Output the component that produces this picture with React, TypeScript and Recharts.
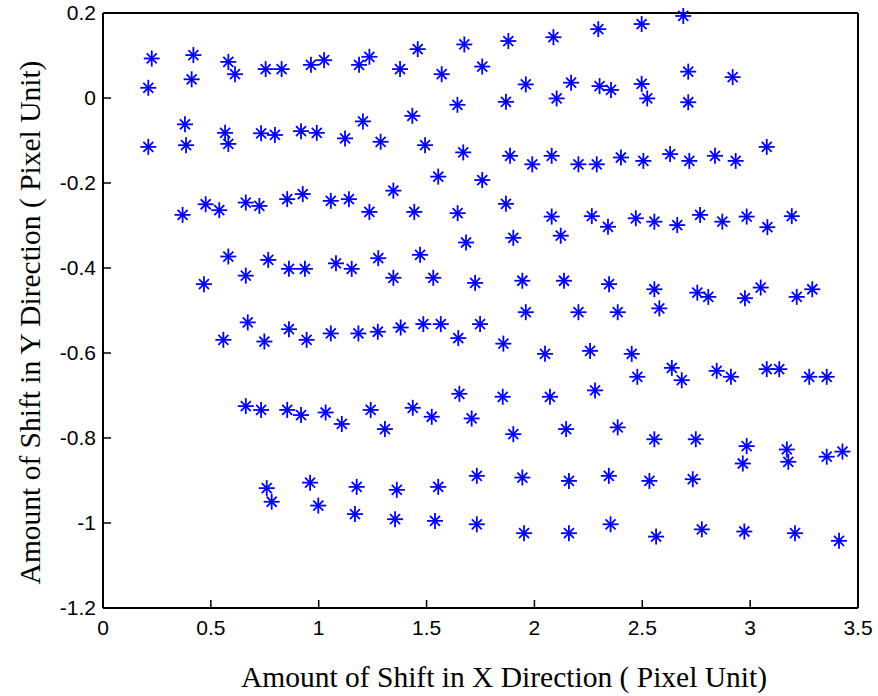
import { Scatter, ScatterChart, XAxis, YAxis } from "recharts";

const xTicks = [0, 0.5, 1, 1.5, 2, 2.5, 3, 3.5];
const yTicks = [-1.2, -1, -0.8, -0.6, -0.4, -0.2, 0, 0.2];
const xTitle = "Amount of Shift in X Direction ( Pixel Unit)";
const yTitle = "Amount of Shift in Y Direction ( Pixel Unit)";

// shift samples, grouped in horizontal bands from top to bottom
const band1X = [0.226, 0.419, 0.21, 0.411, 0.581, 0.612, 0.754, 0.828, 0.964, 1.025, 1.187, 1.235, 1.377, 1.459, 1.57, 1.675, 1.758, 1.879, 2.088, 2.296, 2.497, 2.69, 1.643, 1.868, 1.96, 2.103, 2.17, 2.302, 2.355, 2.497, 2.523, 2.713, 2.713, 2.919];
const band1Y = [0.093, 0.101, 0.024, 0.044, 0.085, 0.056, 0.068, 0.068, 0.078, 0.089, 0.078, 0.097, 0.068, 0.115, 0.056, 0.126, 0.074, 0.134, 0.143, 0.162, 0.174, 0.193, -0.016, -0.009, 0.032, -0.001, 0.036, 0.028, 0.019, 0.033, -0.001, 0.062, -0.01, 0.049];

const band2X = [0.21, 0.38, 0.385, 0.566, 0.581, 0.733, 0.797, 0.918, 0.991, 1.122, 1.205, 1.287, 1.434, 1.493, 1.67, 1.887, 1.99, 2.08, 2.204, 2.289, 2.401, 2.505, 2.629, 2.718, 2.837, 2.933, 3.077, 1.554, 1.758, 1.346];
const band2Y = [-0.115, -0.062, -0.111, -0.082, -0.108, -0.083, -0.087, -0.078, -0.082, -0.095, -0.055, -0.103, -0.042, -0.111, -0.128, -0.136, -0.156, -0.136, -0.156, -0.156, -0.14, -0.148, -0.132, -0.148, -0.136, -0.148, -0.115, -0.185, -0.193, -0.218];

const band3X = [0.369, 0.476, 0.539, 0.662, 0.725, 0.854, 0.926, 1.056, 1.14, 1.235, 1.443, 1.644, 1.868, 2.08, 2.266, 2.341, 2.47, 2.556, 2.662, 2.768, 2.871, 2.984, 3.08, 3.193, 1.683, 1.902, 2.122];
const band3Y = [-0.275, -0.25, -0.264, -0.246, -0.254, -0.238, -0.226, -0.242, -0.238, -0.268, -0.268, -0.271, -0.249, -0.279, -0.278, -0.303, -0.283, -0.291, -0.299, -0.275, -0.291, -0.279, -0.304, -0.278, -0.34, -0.329, -0.324];

const band4X = [0.581, 0.468, 0.662, 0.766, 0.862, 0.936, 1.08, 1.153, 1.276, 1.47, 1.346, 1.531, 1.725, 1.944, 2.137, 2.346, 1.96, 2.204, 2.386, 2.556, 2.579, 2.755, 2.806, 2.976, 3.049, 3.216, 3.288];
const band4Y = [-0.373, -0.438, -0.418, -0.381, -0.402, -0.402, -0.389, -0.402, -0.377, -0.369, -0.423, -0.423, -0.435, -0.43, -0.43, -0.438, -0.504, -0.504, -0.504, -0.45, -0.495, -0.458, -0.468, -0.471, -0.446, -0.468, -0.45];

const band5X = [0.558, 0.671, 0.748, 0.862, 0.944, 1.056, 1.184, 1.274, 1.38, 1.485, 1.566, 1.748, 1.647, 1.856, 2.049, 2.258, 2.451, 2.477, 2.637, 2.683, 2.845, 2.911, 3.077, 3.135, 3.274, 3.355];
const band5Y = [-0.569, -0.528, -0.573, -0.544, -0.569, -0.554, -0.554, -0.55, -0.54, -0.532, -0.532, -0.532, -0.565, -0.578, -0.602, -0.595, -0.602, -0.656, -0.635, -0.664, -0.642, -0.656, -0.638, -0.638, -0.656, -0.656];

const band6X = [1.652, 1.853, 2.072, 2.281, 0.662, 0.733, 0.854, 0.918, 1.032, 1.107, 1.241, 1.307, 1.436, 1.524, 1.709, 1.902, 2.147, 2.386, 2.556, 2.748, 2.984, 2.966, 3.17, 3.177, 3.355, 3.428];
const band6Y = [-0.696, -0.703, -0.703, -0.688, -0.725, -0.734, -0.734, -0.746, -0.74, -0.767, -0.734, -0.779, -0.729, -0.75, -0.754, -0.791, -0.779, -0.775, -0.803, -0.803, -0.819, -0.86, -0.827, -0.856, -0.844, -0.832];

const band7X = [0.759, 0.782, 0.96, 0.998, 1.176, 1.168, 1.362, 1.354, 1.554, 1.539, 1.733, 1.733, 1.944, 1.952, 2.16, 2.16, 2.345, 2.353, 2.533, 2.564, 2.734, 2.776, 2.973, 3.208, 3.412];
const band7Y = [-0.918, -0.95, -0.905, -0.959, -0.915, -0.979, -0.922, -0.991, -0.915, -0.995, -0.889, -1.003, -0.893, -1.024, -0.901, -1.024, -0.889, -1.003, -0.901, -1.032, -0.897, -1.015, -1.02, -1.024, -1.042];

const bands: [number[], number[]][] = [
  [band1X, band1Y],
  [band2X, band2Y],
  [band3X, band3Y],
  [band4X, band4Y],
  [band5X, band5Y],
  [band6X, band6Y],
  [band7X, band7Y],
];

const points = bands.flatMap(([xs, ys]) => xs.map((x, i) => ({ x, y: ys[i] })));

const tickFont = { fill: "#000", fontSize: 21, fontFamily: '"Liberation Sans", Arial, sans-serif' };
const axisLine = { stroke: "#000", strokeWidth: 2 };
const tickLine = { stroke: "#000", strokeWidth: 1.5 };
const serif = '"Liberation Serif", "Times New Roman", serif';

// matlab style '*' marker
const Star = (props: any) => {
  const { cx, cy } = props;
  const r = 8;
  const d = 5;
  return (
    <g stroke="#0000ff" strokeWidth={1.8}>
      <line x1={cx - r} y1={cy} x2={cx + r} y2={cy} />
      <line x1={cx} y1={cy - r} x2={cx} y2={cy + r} />
      <line x1={cx - d} y1={cy - d} x2={cx + d} y2={cy + d} />
      <line x1={cx - d} y1={cy + d} x2={cx + d} y2={cy - d} />
    </g>
  );
};

const XTitle = ({ viewBox }: any) => (
  <text x={viewBox.x + 401} y={viewBox.y + 79} textAnchor="middle" fontFamily={serif} fontSize={29.5} fill="#000">
    {xTitle}
  </text>
);

const YTitle = ({ viewBox }: any) => {
  const cx = viewBox.x + 40;
  const cy = viewBox.y + viewBox.height / 2 + 12;
  return (
    <text x={cx} y={cy} transform={`rotate(-90 ${cx} ${cy})`} textAnchor="middle" fontFamily={serif} fontSize={29.5} fill="#000">
      {yTitle}
    </text>
  );
};

export default function App() {
  return (
    <div style={{ position: "absolute", left: 0, top: 0, background: "#fff" }}>
      <ScatterChart width={878} height={696} margin={{ top: 12, right: 19, bottom: 0, left: 0 }}>
        <XAxis
          xAxisId="bottom"
          type="number"
          dataKey="x"
          domain={[0, 3.5]}
          ticks={xTicks}
          height={88}
          tickSize={-8}
          tickMargin={20}
          tick={tickFont}
          axisLine={axisLine}
          tickLine={tickLine}
          label={XTitle}
        />
        <XAxis
          xAxisId="top"
          orientation="top"
          type="number"
          dataKey="x"
          domain={[0, 3.5]}
          ticks={xTicks}
          height={1}
          tickSize={-8}
          tick={false}
          axisLine={axisLine}
          tickLine={tickLine}
        />
        <YAxis
          yAxisId="left"
          type="number"
          dataKey="y"
          domain={[-1.2, 0.2]}
          ticks={yTicks}
          width={103}
          tickSize={-8}
          tickMargin={15}
          tick={tickFont}
          axisLine={axisLine}
          tickLine={tickLine}
          label={YTitle}
        />
        <YAxis
          yAxisId="right"
          orientation="right"
          type="number"
          dataKey="y"
          domain={[-1.2, 0.2]}
          ticks={yTicks}
          width={1}
          tickSize={-8}
          tick={false}
          axisLine={axisLine}
          tickLine={tickLine}
        />
        <Scatter
          data={points}
          xAxisId="bottom"
          yAxisId="left"
          shape={Star}
          isAnimationActive={false}
        />
      </ScatterChart>
    </div>
  );
}
